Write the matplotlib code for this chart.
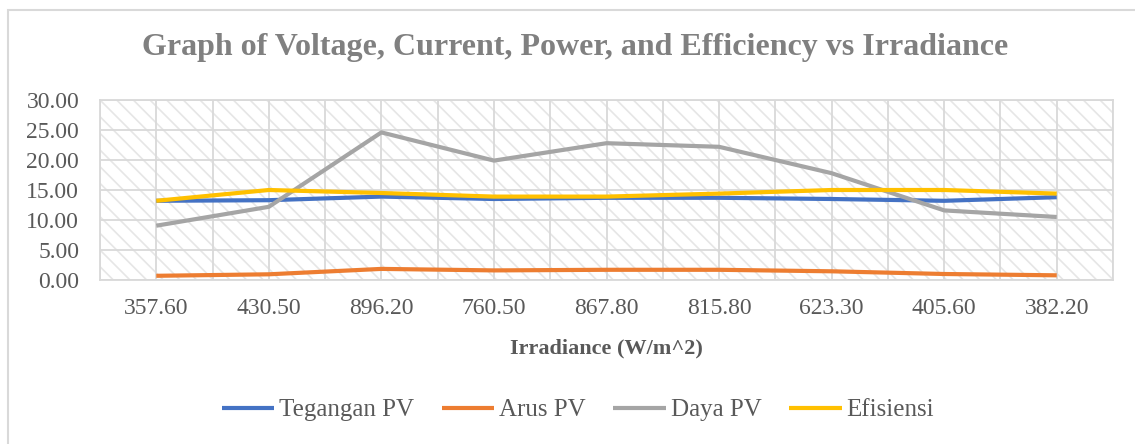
import matplotlib
matplotlib.use('Agg')
import matplotlib.pyplot as plt
from matplotlib.patches import Rectangle
import numpy as np

# data
irradiance = ['357.60', '430.50', '896.20', '760.50', '867.80',
              '815.80', '623.30', '405.60', '382.20']
tegangan = [13.2, 13.3, 13.9, 13.5, 13.7, 13.7, 13.5, 13.2, 13.8]
arus = [0.70, 0.95, 1.85, 1.60, 1.70, 1.70, 1.45, 1.00, 0.78]
daya = [9.05, 12.2, 24.6, 19.9, 22.8, 22.2, 17.8, 11.6, 10.5]
efisiensi = [13.2, 15.0, 14.5, 13.9, 13.9, 14.4, 15.0, 15.0, 14.4]

names = ['Tegangan PV', 'Arus PV', 'Daya PV', 'Efisiensi']
colors = ['#4472C4', '#ED7D31', '#A5A5A5', '#FFC000']
series = [tegangan, arus, daya, efisiensi]

plt.rcParams['font.family'] = ['Liberation Serif', 'DejaVu Serif']
plt.rcParams['hatch.linewidth'] = 1.2
plt.rcParams['hatch.color'] = '#e6e6e6'

W, H = 1135, 444
fig = plt.figure(figsize=(W / 100, H / 100), dpi=100)
ax = fig.add_axes([100 / W, 1 - 280 / H, (1113 - 100) / W, (280 - 100) / H])

# outer chart border (only top and left are visible in the reference)
fig.patches.append(Rectangle((8 / W, -0.1), 1.2, 1 - 10 / H + 0.1,
                             transform=fig.transFigure, fill=False,
                             edgecolor='#d9d9d9', linewidth=1.5, zorder=0))

# hatched plot area
ax.add_patch(Rectangle((0, 0), 1, 1, transform=ax.transAxes,
                       facecolor='white', edgecolor='#e6e6e6',
                       hatch='\\\\', linewidth=0, zorder=0))

x = np.arange(len(irradiance))
for vals, name, c in zip(series, names, colors):
    ax.plot(x, vals, color=c, linewidth=3, label=name,
            solid_capstyle='butt', zorder=3)

ax.set_xlim(-0.5, len(irradiance) - 0.5)
ax.set_ylim(0, 30)
ax.set_yticks(np.arange(0, 31, 5))
ax.set_yticklabels(['%.2f' % v for v in np.arange(0, 31, 5)])
ax.set_xticks(x)
ax.set_xticklabels(irradiance)
ax.set_xticks(np.arange(-0.5, len(irradiance), 1.0), minor=True)

ax.grid(True, which='both', color='#d9d9d9', linewidth=1.3, zorder=1)
ax.set_axisbelow(True)
ax.tick_params(axis='both', which='both', length=0, labelsize=17,
               labelcolor='#595959')
ax.tick_params(axis='x', pad=13)
ax.tick_params(axis='y', pad=15)
for s in ax.spines.values():
    s.set_color('#d9d9d9')
    s.set_linewidth(1.3)

ax.set_xlabel('Irradiance (W/m^2)', fontsize=16, fontweight='bold',
              color='#595959', labelpad=14)

fig.text(575 / W, 1 - 47 / H,
         'Graph of Voltage, Current, Power, and Efficiency vs Irradiance',
         ha='center', va='center', fontsize=23, fontweight='bold',
         color='#808080')

fig.legend(loc='center', bbox_to_anchor=(578 / W, 1 - 410 / H), ncol=4,
           frameon=False, fontsize=18, handlelength=2.1, handletextpad=0.2,
           columnspacing=1.1, labelcolor='#595959')

fig.savefig('out.png', dpi=100)
